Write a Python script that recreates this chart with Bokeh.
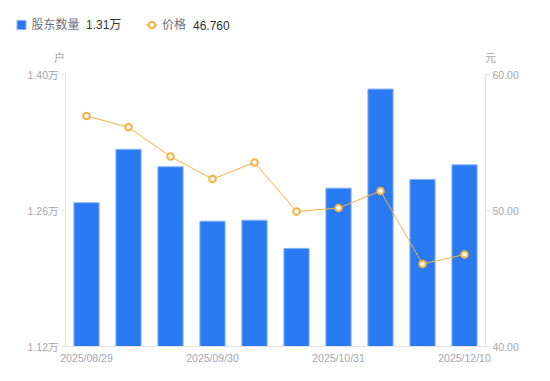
from bokeh.plotting import figure
from bokeh.layouts import column
from bokeh.models import (Range1d, LinearAxis, FixedTicker, PrintfTickFormatter,
                          ColumnDataSource)
from bokeh.core.properties import value
from bokeh.embed import file_html
from bokeh.resources import INLINE

dates = ["2025/08/29", "2025/09/10", "2025/09/19", "2025/09/30", "2025/10/10",
         "2025/10/20", "2025/10/31", "2025/11/10", "2025/11/20", "2025/12/10"]
holders = [1.268, 1.323, 1.305, 1.249, 1.250, 1.221, 1.283, 1.385, 1.292, 1.307]
prices = [56.95, 56.12, 53.97, 52.31, 53.53, 49.93, 50.18, 51.43, 46.07, 46.76]
shown_dates = [0, 3, 6, 9]
left_ticks = [1.12, 1.26, 1.40]
right_ticks = [40, 50, 60]
series_names = ["股东数量", "价格"]
unit_names = ["户", "元"]

FONT = "'Liberation Sans', 'Noto Sans CJK SC', sans-serif"
GRAY = "#a3a6b0"
AXIS = "#e3e4e8"
BLUE = "#2a7af4"
BLUE_EDGE = "#86b3fa"
ORANGE = "#fab13d"
LEG_GRAY = "#6e7079"

W = 550
HEAD_H = 64

# ---------------- header (legend + unit titles) ----------------
h = figure(width=W, height=HEAD_H, output_backend="svg", toolbar_location=None,
           x_range=Range1d(0, W), y_range=Range1d(HEAD_H, 0),
           min_border_left=0, min_border_right=0, min_border_top=0, min_border_bottom=0,
           x_axis_location=None, y_axis_location=None, outline_line_color=None)
h.frame_align = False
h.grid.visible = False

h.scatter(x=[21], y=[24.5], marker="square", size=9, fill_color=BLUE,
          line_color=BLUE_EDGE, line_width=1)
h.line(x=[146, 157], y=[24.5, 24.5], line_color=ORANGE, line_width=1.5)
h.scatter(x=[151.5], y=[24.5], size=6.5, fill_color="white", line_color=ORANGE, line_width=2)

h.text(x=[31, 161.5], y=[24.5, 24.5], text=series_names, text_font=value(FONT),
       text_font_size="12px", text_color=LEG_GRAY, text_baseline="middle")
h.text(x=[85.5, 192.5], y=[24.5, 24.5],
       text=[f"{holders[-1]:.2f}万", f"{prices[-1]:.3f}"], text_font=value(FONT),
       text_font_size="12px", text_color="#333333", text_baseline="middle")
h.text(x=[59, 490], y=[57, 57], text=unit_names, text_font=value(FONT),
       text_font_size="11px", text_color=GRAY, text_baseline="middle", text_align="center")

# ---------------- main chart ----------------
x = list(range(len(dates)))
src = ColumnDataSource(dict(x=x, holders=holders, prices=prices, date=dates))

p = figure(width=W, height=316, output_backend="svg", toolbar_location=None,
           x_range=Range1d(-0.5, len(dates) - 0.5), y_range=Range1d(1.12, 1.40),
           min_border_left=65, min_border_right=65, min_border_top=10, min_border_bottom=34,
           outline_line_color=None)
p.frame_align = False
p.extra_y_ranges = {"price": Range1d(40, 60)}
p.grid.visible = False

p.vbar(x="x", top="holders", bottom=1.12, width=0.6, source=src,
       fill_color=BLUE, line_color=BLUE_EDGE, line_width=1)
p.line(x="x", y="prices", source=src, y_range_name="price", line_color=ORANGE, line_width=1)
p.scatter(x="x", y="prices", source=src, y_range_name="price", size=6.5,
          fill_color="white", line_color=ORANGE, line_width=2)

xa = p.xaxis[0]
xa.ticker = FixedTicker(ticks=shown_dates)
xa.major_label_overrides = {i: dates[i] for i in shown_dates}
xa.major_tick_out = 0
xa.major_tick_in = 0
xa.minor_tick_line_color = None
xa.axis_line_color = AXIS
xa.major_label_text_color = GRAY
xa.major_label_text_font = FONT
xa.major_label_text_font_size = "10.5px"
xa.major_label_standoff = 5

ya = p.yaxis[0]
ya.ticker = FixedTicker(ticks=left_ticks)
ya.formatter = PrintfTickFormatter(format="%.2f万")
ya.major_tick_out = 5
ya.major_tick_in = 0
ya.minor_tick_line_color = None
ya.axis_line_color = AXIS
ya.major_tick_line_color = AXIS
ya.major_label_text_color = GRAY
ya.major_label_text_font = FONT
ya.major_label_text_font_size = "10.5px"
ya.major_label_standoff = 2

ra = LinearAxis(y_range_name="price", ticker=FixedTicker(ticks=right_ticks),
                formatter=PrintfTickFormatter(format="%.2f"))
ra.major_tick_out = 5
ra.major_tick_in = 0
ra.minor_tick_line_color = None
ra.axis_line_color = AXIS
ra.major_tick_line_color = AXIS
ra.major_label_text_color = GRAY
ra.major_label_text_font = FONT
ra.major_label_text_font_size = "10.5px"
ra.major_label_standoff = 2
p.add_layout(ra, "right")

layout = column(h, p, spacing=0)
open("out.html", "w").write(file_html(layout, INLINE))
